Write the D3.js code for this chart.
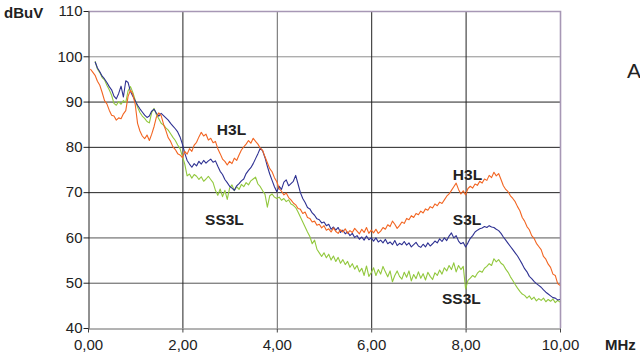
<!DOCTYPE html>
<html>
<head>
<meta charset="utf-8">
<script src="https://cdn.jsdelivr.net/npm/d3@7"></script>
<style>
  body { margin: 0; background: #fff; }
  svg { display: block; font-family: "Liberation Sans", Arial, sans-serif; }
</style>
</head>
<body>
<svg id="chart" width="640" height="353"></svg>
<script>
// frequency samples (MHz)
var freq = [0.05,0.1,0.15,0.2,0.25,0.3,0.35,0.4,0.45,0.5,
  0.55,0.6,0.65,0.7,0.75,0.8,0.85,0.9,0.95,1.0,
  1.05,1.1,1.15,1.2,1.25,1.3,1.35,1.4,1.45,1.5,
  1.55,1.6,1.65,1.7,1.75,1.8,1.85,1.9,1.95,2.0,
  2.05,2.1,2.15,2.2,2.25,2.3,2.35,2.4,2.45,2.5,
  2.55,2.6,2.65,2.7,2.75,2.8,2.85,2.9,2.95,3.0,
  3.05,3.1,3.15,3.2,3.25,3.3,3.35,3.4,3.45,3.5,
  3.55,3.6,3.65,3.7,3.75,3.8,3.85,3.9,3.95,4.0,
  4.05,4.1,4.15,4.2,4.25,4.3,4.35,4.4,4.45,4.5,
  4.55,4.6,4.65,4.7,4.75,4.8,4.85,4.9,4.95,5.0,
  5.05,5.1,5.15,5.2,5.25,5.3,5.35,5.4,5.45,5.5,
  5.55,5.6,5.65,5.7,5.75,5.8,5.85,5.9,5.95,6.0,
  6.05,6.1,6.15,6.2,6.25,6.3,6.35,6.4,6.45,6.5,
  6.55,6.6,6.65,6.7,6.75,6.8,6.85,6.9,6.95,7.0,
  7.05,7.1,7.15,7.2,7.25,7.3,7.35,7.4,7.45,7.5,
  7.55,7.6,7.65,7.7,7.75,7.8,7.85,7.9,7.95,8.0,
  8.05,8.1,8.15,8.2,8.25,8.3,8.35,8.4,8.45,8.5,
  8.55,8.6,8.65,8.7,8.75,8.8,8.85,8.9,8.95,9.0,
  9.05,9.1,9.15,9.2,9.25,9.3,9.35,9.4,9.45,9.5,
  9.55,9.6,9.65,9.7,9.75,9.8,9.85,9.9,9.95,10.0];

// dBuV readings
var h3l = [97.2,96.5,95.8,94.5,93.6,92,90.2,89.5,88.1,87,
  86.8,85.9,86.4,86.2,87.3,88,91.2,92.5,91.6,89.4,
  85.2,83.5,82.4,81.8,82.6,81.4,82.8,84.5,86.6,87.5,
  86.9,85,83.6,82,81.2,80,79.4,78.5,78.2,77.6,
  79,78.4,79.6,79,80.4,81,82.2,83.2,82.4,82.8,
  81.5,81.9,80.9,81.2,79.6,78.5,77.3,76.8,76,76.8,
  76.3,77.5,77,78.2,79.3,80,80.6,81.4,80.8,81.9,
  81.2,80.6,79.7,79.2,77.8,76.5,75.2,74.5,73.2,72.3,
  70.8,70.2,69.4,69.8,68.8,68.3,67.6,67.2,66.4,66.2,
  65.3,65.6,64.4,64.2,63.4,63.6,62.7,62.9,62.1,62.6,
  61.6,61.9,61.2,62.1,61.3,60.9,61.7,61.2,61.9,60.9,
  61.5,61.1,62,61.4,60.8,61.8,61.1,62.2,60.9,61.6,
  61,61.8,60.9,61.4,62.2,61.8,62.8,62.4,63.6,62.9,
  62,62.6,63.4,63.1,64.2,63.9,64.8,64.4,65.3,65,
  65.8,65.4,66.3,66,66.8,66.5,67.4,67,67.8,67.5,
  68.3,69.1,69.6,70.4,71.2,72,70.6,69.6,70.3,69.4,
  70.8,71.3,70.9,71.8,71.5,72.4,72,72.9,72.6,73.7,
  73.2,74.4,73.6,74.1,72.8,71.4,70.6,70.1,69.2,68.6,
  67.9,66.8,65.9,64.4,63.6,62.4,61.7,60.4,59.8,58.7,
  58,57.3,55.8,55.2,54.1,53.4,51.9,51.6,49.8,49.4];

var s3l = [null,null,98.8,97.4,96.6,95.6,95,94.2,93.3,92.6,
  91.2,90.6,91.8,93.4,91,94.6,94.2,92.2,91.2,90.2,
  89.2,88.4,87.7,87,86.5,86.8,87.9,88.3,87.4,86.8,
  87.4,86.9,86.4,85.9,85.2,84.6,84,83.3,82.2,80.6,
  78.6,77,76.2,75.5,76.3,75.8,76.8,76.2,77,76.4,
  76.9,77.3,76.6,76.9,75.7,74.6,73.9,72.8,72.1,71.3,
  70.9,70.4,71.4,71.9,72.5,72.9,74.1,74.8,75.4,76.3,
  77.4,78.5,79.7,79.1,77.6,75.7,74,72.6,71.2,70.1,
  71.3,70.6,72.2,72.7,71.4,71.9,72.4,73.7,71.8,69.9,
  68.6,67.7,66.6,66.3,65.4,64.9,64.1,63.9,63.2,63.4,
  62.6,62.9,61.8,62.3,61.6,62.2,61.1,61.6,60.8,61.2,
  60.4,60.9,60,60.4,59.6,60.1,59.4,60.3,59.5,59.9,
  59.2,59.9,59,59.4,58.8,59.6,58.6,59,58.4,59.3,
  58.2,58.7,58.4,59.1,58.3,58.8,57.9,58.4,58.9,58.1,
  57.8,58.5,57.9,58.8,58.1,58.6,59.2,58.8,59.7,59.1,
  59.9,59.3,60.3,61,59.9,60.4,59.2,58.6,58.9,57.9,
  58.8,59.8,60.4,61.2,61.6,61.9,62.1,62.4,62.2,62.6,
  62.3,62.2,61.8,61.5,60.9,60.1,59.4,58.7,58,57.3,
  56.6,55.9,55,54.1,53.1,52.4,51.4,50.9,50.3,49.8,
  49.4,49,48.4,47.9,47.5,47.1,46.7,46.6,46.2,46.3];

var ss3l = [null,null,98.9,97.2,96.4,95.3,94.8,93.6,92.6,91.4,
  89.6,89.2,90,89.4,90.2,89.8,92.4,93.3,92,90.3,
  88.8,87.6,86.8,86.3,85.6,85.3,87.6,88.5,87.1,86.2,
  85.2,84.8,84.2,83.7,82.9,82.1,81.4,80.4,79.6,77.9,
  76.2,73.6,74,73.1,73.9,73.5,72.8,73.4,72.4,72.9,
  73.5,72.8,72.1,70.4,69.3,70.7,69,70.4,68.4,70.9,
  71.6,70.3,71.2,70.6,71.7,71.2,72.1,71.6,72.5,72.9,
  73.3,71.8,71.2,70.3,69.5,66.7,69.2,69.6,68.9,68.6,
  68.9,68.2,68.6,67.9,68.3,67.4,67.1,66.6,65.6,64.5,
  63.4,62.3,61.2,60.2,58.6,59.4,57.4,56.6,55.8,56.6,
  55.5,56.3,55,55.9,54.7,55.6,54.3,55.1,54,54.7,
  53.4,54.2,53,53.8,52.4,53.2,51.6,53.7,51.4,52.2,
  53.3,51.6,52.9,51.9,53.6,52.4,51.3,52.6,50.2,51.6,
  52.6,51.4,50.8,52.3,51.2,52.6,50.4,51.8,50.9,52.4,
  51,52,50.6,52.3,51.4,50.7,52.2,51.6,52.8,51.9,
  53.3,52.6,53.8,52.9,54.4,52.4,53.8,52.9,53.6,48.6,
  50.5,51,51.6,51.2,52.1,52.6,52.3,53.2,53.6,54.2,
  53.8,55.3,54.6,55.1,54.3,53.9,53,52.3,51.3,50.5,
  49.6,48.8,48.1,47.5,47.2,46.6,47.1,46.3,46.8,46,
  46.5,46.1,46.6,45.8,46.3,45.9,46.4,45.6,46.1,45.7];

var seriesNames = ["SS3L", "S3L", "H3L"];
var seriesColors = ["#92c83e", "#2e3192", "#f26522"];
var xTicks = [0, 2, 4, 6, 8, 10];
var yTicks = [40, 50, 60, 70, 80, 90, 100, 110];

// text labels placed in data units
var notes = [
  { text: "H3L", f: 2.73, v: 82.6 },
  { text: "SS3L", f: 2.48, v: 62.8 },
  { text: "H3L", f: 7.73, v: 72.6 },
  { text: "S3L", f: 7.73, v: 62.8 },
  { text: "SS3L", f: 7.5, v: 45.4 }
];

var margin = { top: 11, right: 80, bottom: 25, left: 88 },
  width = 640 - margin.left - margin.right,
  height = 353 - margin.top - margin.bottom;

var x = d3.scaleLinear().domain([0, 10]).range([0, width]);
var y = d3.scaleLinear().domain([40, 110]).range([height, 0]);

var svg = d3.select("#chart")
  .append("g")
  .attr("transform", "translate(" + margin.left + "," + margin.top + ")");

var fmt = function (d) { return d3.format(".2f")(d).replace(".", ","); };

// horizontal grid
svg.append("g")
  .selectAll("line")
  .data(yTicks.filter(function (d) { return d > 40 && d < 110; }))
  .join("line")
  .attr("x1", 0).attr("x2", width)
  .attr("y1", function (d) { return y(d) + 0.5; })
  .attr("y2", function (d) { return y(d) + 0.5; })
  .attr("stroke", function (d) { return d == 100 ? "#8e8e8e" : (d < 70 ? "#555" : "#222"); })
  .attr("stroke-width", 1);

// vertical grid
svg.append("g")
  .selectAll("line")
  .data(xTicks.filter(function (d) { return d > 0 && d < 10; }))
  .join("line")
  .attr("x1", function (d) { return x(d) + 0.5; })
  .attr("x2", function (d) { return x(d) + 0.5; })
  .attr("y1", 0).attr("y2", height)
  .attr("stroke", function (d) { return d == 4 ? "#666" : "#222"; })
  .attr("stroke-width", 1);

// top and right frame
svg.append("path")
  .attr("d", "M0," + (y(110) + 0.5) + "H" + (x(10) + 0.5) + "V" + height)
  .attr("fill", "none")
  .attr("stroke", "#a797b5")
  .attr("stroke-width", 1.6);

// lines
var line = d3.line()
  .defined(function (d) { return d[1] != null; })
  .x(function (d) { return x(d[0]); })
  .y(function (d) { return y(d[1]); });

var seriesValues = [ss3l, s3l, h3l];
seriesValues.forEach(function (vals, i) {
  svg.append("path")
    .datum(freq.map(function (f, j) { return [f, vals[j]]; }))
    .attr("fill", "none")
    .attr("stroke", seriesColors[i])
    .attr("stroke-width", 1.1)
    .attr("stroke-linejoin", "round")
    .attr("d", line);
});

// x axis
var xAxis = svg.append("g")
  .attr("transform", "translate(0," + (height + 0.5) + ")")
  .call(d3.axisBottom(x).tickValues(xTicks).tickFormat(fmt).tickSize(4).tickSizeOuter(0));
xAxis.select(".domain").attr("stroke", "#666");
xAxis.selectAll(".tick line").attr("stroke", "#444");
xAxis.selectAll("text")
  .attr("font-size", 15)
  .attr("font-family", "Liberation Sans, Arial, sans-serif")
  .attr("fill", "#222")
  .attr("dy", "0.95em");

// y axis
var yAxis = svg.append("g")
  .attr("transform", "translate(0.5,0)")
  .call(d3.axisLeft(y).tickValues(yTicks).tickSize(5).tickSizeOuter(0));
yAxis.select(".domain").attr("stroke", "#222");
yAxis.selectAll(".tick line").attr("stroke", "#222");
yAxis.selectAll("text")
  .attr("font-size", 15)
  .attr("font-family", "Liberation Sans, Arial, sans-serif")
  .attr("fill", "#222")
  .attr("x", -6);

// series annotations
svg.append("g")
  .selectAll("text")
  .data(notes)
  .join("text")
  .attr("x", function (d) { return x(d.f); })
  .attr("y", function (d) { return y(d.v); })
  .attr("font-size", 15.5)
  .attr("font-weight", "bold")
  .attr("fill", "#222")
  .text(function (d) { return d.text; });

// unit labels
var root = d3.select("#chart");
root.append("text")
  .attr("x", 4).attr("y", 18)
  .attr("font-size", 15)
  .attr("font-weight", "bold")
  .attr("fill", "#222")
  .text("dBuV");
root.append("text")
  .attr("x", 605).attr("y", 350)
  .attr("font-size", 15)
  .attr("font-weight", "bold")
  .attr("fill", "#222")
  .text("MHz");
root.append("text")
  .attr("x", 627).attr("y", 78)
  .attr("font-size", 21)
  .attr("fill", "#222")
  .text("A");
</script>
</body>
</html>
